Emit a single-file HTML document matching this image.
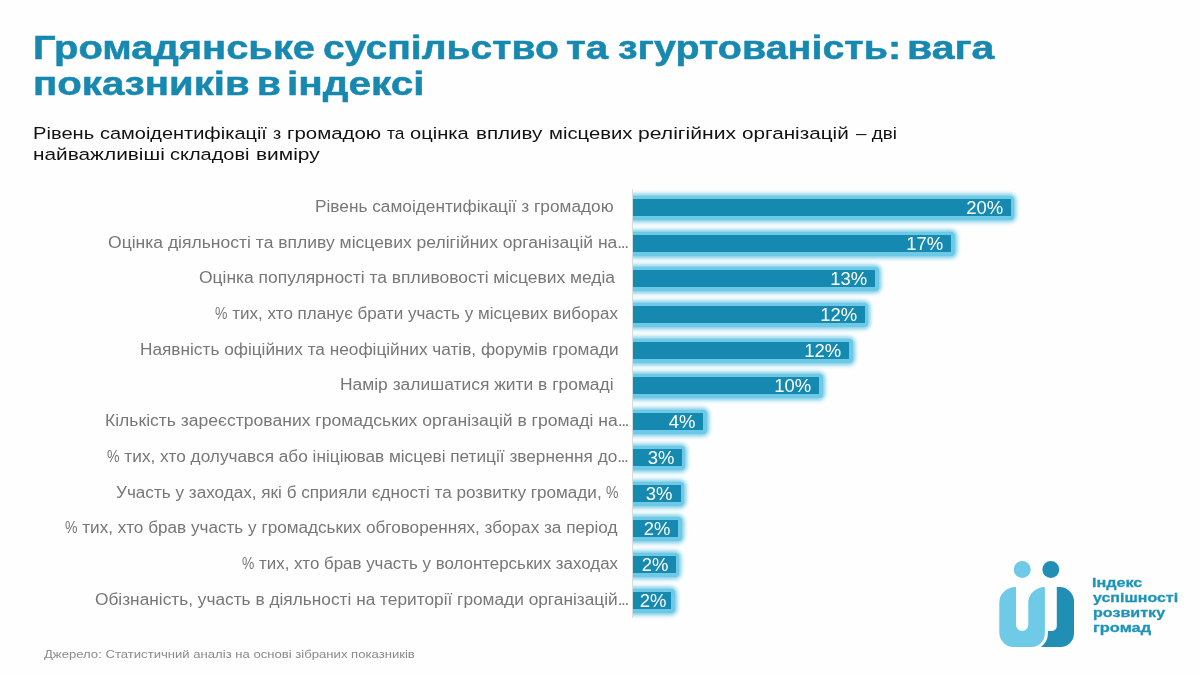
<!DOCTYPE html>
<html lang="uk"><head><meta charset="utf-8"><title>Громадянське суспільство та згуртованість</title>
<style>
html,body{margin:0;padding:0;}
body{width:1200px;height:675px;background:#fefefe;overflow:hidden;position:relative;font-family:"Liberation Sans",sans-serif;}
.t{position:absolute;white-space:nowrap;line-height:1;transform-origin:0 0;will-change:transform;}
.title{font-weight:bold;color:#1789b0;font-size:32.7px;-webkit-text-stroke:0.5px #1789b0;}
.sub{color:#111;font-size:17.4px;}
.lab{color:#777;font-size:15.6px;}
.el{letter-spacing:-1.3px;}
.pc{display:inline-block;transform:scaleX(.82);transform-origin:0 0;margin-right:-2.5px;}
.foot{color:#8a8a8a;font-size:11px;}
.lg{font-weight:bold;color:#2093b8;font-size:13.2px;-webkit-text-stroke:0.3px #2093b8;}
#plot{position:absolute;left:632.7px;top:170px;width:560px;height:470px;overflow:hidden;}
.bar{position:absolute;left:0;height:17.0px;background:#1689b0;}
.glow{position:absolute;left:-8px;padding-left:8px;height:24px;background:#6ec9e6;border-radius:4px;box-shadow:0 0 4.5px 1.8px #6ec9e6;}
.val{position:absolute;color:#fff;font-size:17.6px;line-height:17px;white-space:nowrap;transform-origin:100% 0;will-change:transform;}
#axis{position:absolute;left:631.7px;top:189px;width:1px;height:429px;background:#dcdcdc;}
</style></head><body>

<div class="t title" id="t1_0" style="left:33.23px;top:32.12px;transform:scaleX(1.2205)">Громадянське</div>
<div class="t title" id="t1_1" style="left:323.24px;top:32.12px;transform:scaleX(1.1954)">суспільство</div>
<div class="t title" id="t1_2" style="left:566.00px;top:32.12px;transform:scaleX(1.2343)">та</div>
<div class="t title" id="t1_3" style="left:617.90px;top:32.12px;transform:scaleX(1.2069)">згуртованість:</div>
<div class="t title" id="t1_4" style="left:906.94px;top:32.12px;transform:scaleX(1.2529)">вага</div>
<div class="t title" id="t2_0" style="left:32.77px;top:68.22px;transform:scaleX(1.2287)">показників</div>
<div class="t title" id="t2_1" style="left:256.62px;top:68.22px;transform:scaleX(1.1882)">в</div>
<div class="t title" id="t2_2" style="left:286.97px;top:68.22px;transform:scaleX(1.2402)">індексі</div>
<div class="t sub" id="s1_0" style="left:33.41px;top:124.87px;transform:scaleX(1.1588)">Рівень</div>
<div class="t sub" id="s1_1" style="left:100.00px;top:124.87px;transform:scaleX(1.1473)">самоідентифікації</div>
<div class="t sub" id="s1_2" style="left:272.50px;top:124.87px;transform:scaleX(1.0187)">з</div>
<div class="t sub" id="s1_3" style="left:287.26px;top:124.87px;transform:scaleX(1.1747)">громадою</div>
<div class="t sub" id="s1_4" style="left:386.50px;top:124.87px;transform:scaleX(0.9861)">та</div>
<div class="t sub" id="s1_5" style="left:410.46px;top:124.87px;transform:scaleX(1.1559)">оцінка</div>
<div class="t sub" id="s1_6" style="left:475.72px;top:124.87px;transform:scaleX(1.1836)">впливу</div>
<div class="t sub" id="s1_7" style="left:548.84px;top:124.87px;transform:scaleX(1.1634)">місцевих</div>
<div class="t sub" id="s1_8" style="left:637.78px;top:124.87px;transform:scaleX(1.2150)">релігійних</div>
<div class="t sub" id="s1_9" style="left:742.34px;top:124.87px;transform:scaleX(1.1916)">організацій</div>
<div class="t sub" id="s1_10" style="left:855.83px;top:124.87px;transform:scaleX(1.0811)">– дві</div>
<div class="t sub" id="s2_0" style="left:32.70px;top:146.42px;transform:scaleX(1.1968)">найважливіші</div>
<div class="t sub" id="s2_1" style="left:170.00px;top:146.42px;transform:scaleX(1.1478)">складові</div>
<div class="t sub" id="s2_2" style="left:255.68px;top:146.42px;transform:scaleX(1.2019)">виміру</div>
<div class="t lab" id="l0" style="left:314.89px;top:198.94px;transform:scaleX(1.1067)">Рівень самоідентифікації з громадою</div>
<div class="t lab" id="l1" style="left:108.00px;top:234.94px;transform:scaleX(1.1235)">Оцінка діяльності та впливу місцевих релігійних організацій на<span class="el">...</span></div>
<div class="t lab" id="l2" style="left:198.85px;top:269.94px;transform:scaleX(1.1177)">Оцінка популярності та впливовості місцевих медіа</div>
<div class="t lab" id="l3" style="left:214.79px;top:305.94px;transform:scaleX(1.0921)"><span class="pc">%</span> тих, хто планує брати участь у місцевих виборах</div>
<div class="t lab" id="l4" style="left:140.32px;top:341.94px;transform:scaleX(1.1053)">Наявність офіційних та неофіційних чатів, форумів громади</div>
<div class="t lab" id="l5" style="left:339.82px;top:376.94px;transform:scaleX(1.1169)">Намір залишатися жити в громаді</div>
<div class="t lab" id="l6" style="left:105.03px;top:412.94px;transform:scaleX(1.1241)">Кількість зареєстрованих громадських організацій в громаді на<span class="el">...</span></div>
<div class="t lab" id="l7" style="left:107.16px;top:448.94px;transform:scaleX(1.1053)"><span class="pc">%</span> тих, хто долучався або ініціював місцеві петиції звернення до<span class="el">...</span></div>
<div class="t lab" id="l8" style="left:115.63px;top:484.94px;transform:scaleX(1.0989)">Участь у заходах, які б сприяли єдності та розвитку громади, <span class="pc">%</span></div>
<div class="t lab" id="l9" style="left:64.79px;top:519.94px;transform:scaleX(1.0994)"><span class="pc">%</span> тих, хто брав участь у громадських обговореннях, зборах за період</div>
<div class="t lab" id="l10" style="left:241.63px;top:555.94px;transform:scaleX(1.0841)"><span class="pc">%</span> тих, хто брав участь у волонтерських заходах</div>
<div class="t lab" id="l11" style="left:95.21px;top:591.94px;transform:scaleX(1.1083)">Обізнаність, участь в діяльності на території громади організацій<span class="el">...</span></div>
<div class="t foot" id="f1" style="left:43.90px;top:648.79px;transform:scaleX(1.1913)">Джерело: Статистичний аналіз на основі зібраних показників</div>
<div class="t lg" id="g1" style="left:1092.44px;top:575.73px;transform:scaleX(1.2244)">Індекс</div>
<div class="t lg" id="g2" style="left:1092.88px;top:590.53px;transform:scaleX(1.2114)">успішності</div>
<div class="t lg" id="g3" style="left:1092.89px;top:605.83px;transform:scaleX(1.2203)">розвитку</div>
<div class="t lg" id="g4" style="left:1092.90px;top:620.73px;transform:scaleX(1.2447)">громад</div>
<div id="axis"></div>
<div id="plot">
<div class="glow" style="top:25.5px;width:381.60px"></div>
<div class="glow" style="top:61.5px;width:321.90px"></div>
<div class="glow" style="top:96.5px;width:245.90px"></div>
<div class="glow" style="top:132.5px;width:235.80px"></div>
<div class="glow" style="top:168.5px;width:219.90px"></div>
<div class="glow" style="top:203.5px;width:190.20px"></div>
<div class="glow" style="top:239.5px;width:74.00px"></div>
<div class="glow" style="top:275.5px;width:52.70px"></div>
<div class="glow" style="top:311.5px;width:51.40px"></div>
<div class="glow" style="top:346.5px;width:49.20px"></div>
<div class="glow" style="top:382.5px;width:46.80px"></div>
<div class="glow" style="top:418.5px;width:42.10px"></div>
<div class="bar" style="top:29px;width:378.10px"></div>
<div class="bar" style="top:65px;width:318.40px"></div>
<div class="bar" style="top:100px;width:242.40px"></div>
<div class="bar" style="top:136px;width:232.30px"></div>
<div class="bar" style="top:172px;width:216.40px"></div>
<div class="bar" style="top:207px;width:186.70px"></div>
<div class="bar" style="top:243px;width:70.50px"></div>
<div class="bar" style="top:279px;width:49.20px"></div>
<div class="bar" style="top:315px;width:47.90px"></div>
<div class="bar" style="top:350px;width:45.70px"></div>
<div class="bar" style="top:386px;width:43.30px"></div>
<div class="bar" style="top:422px;width:38.60px"></div>
<div class="val" style="top:30.00px;right:189.80px;transform:scaleX(1.05)">20%</div>
<div class="val" style="top:66.00px;right:249.50px;transform:scaleX(1.05)">17%</div>
<div class="val" style="top:101.00px;right:325.50px;transform:scaleX(1.05)">13%</div>
<div class="val" style="top:137.00px;right:335.60px;transform:scaleX(1.05)">12%</div>
<div class="val" style="top:173.00px;right:351.50px;transform:scaleX(1.05)">12%</div>
<div class="val" style="top:208.00px;right:381.00px;transform:scaleX(1.05)">10%</div>
<div class="val" style="top:244.00px;right:497.40px;transform:scaleX(1.05)">4%</div>
<div class="val" style="top:280.00px;right:518.40px;transform:scaleX(1.05)">3%</div>
<div class="val" style="top:316.00px;right:519.80px;transform:scaleX(1.05)">3%</div>
<div class="val" style="top:351.00px;right:522.30px;transform:scaleX(1.05)">2%</div>
<div class="val" style="top:387.00px;right:524.70px;transform:scaleX(1.05)">2%</div>
<div class="val" style="top:423.00px;right:526.00px;transform:scaleX(1.05)">2%</div>
</div>
<svg id="logo" style="position:absolute;left:990px;top:550px" width="100" height="110" viewBox="990 550 100 110">
<circle cx="1050.8" cy="569.55" r="8.45" fill="#218fb4"/>
<circle cx="1022.25" cy="569.55" r="8.5" fill="#6ecae6"/>
<path d="M1056.8 586.9 H1059.5 A14.5 14.5 0 0 1 1074 601.4 V633.2 A13.5 13.8 0 0 1 1060.5 647 H1030 V630.9 H1052.1 A4.7 4.7 0 0 0 1056.8 626.2 Z" fill="#218fb4"/>
<path d="M1016 586.9 V624.85 A6.15 6.15 0 0 0 1028.3 624.85 V603 A16.6 16.1 0 0 1 1044.9 586.9 V633.2 A13.2 13.8 0 0 1 1031.7 647 H1013.7 A14.4 14.7 0 0 1 999.3 632.3 V602.4 A16.5 15.5 0 0 1 1015.8 586.9 Z" fill="#6ecae6" stroke="#fefefe" stroke-width="6" paint-order="stroke" stroke-linejoin="round"/>
</svg>
</body></html>
